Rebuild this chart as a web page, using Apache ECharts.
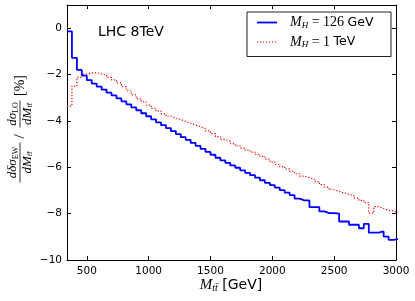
<!DOCTYPE html>
<html>
<head>
<meta charset="utf-8">
<script src="https://cdn.jsdelivr.net/npm/echarts@6.0.0/dist/echarts.min.js"></script>
<style>
html,body{margin:0;padding:0;background:#fff;}
#chart{width:415px;height:301px;}
</style>
</head>
<body>
<div id="chart"></div>
<script>
// Histogram binning (GeV)
const binStart = 340;
const binWidth = 40;
// M_H = 126 GeV (blue, solid step)
const blueVals = [-0.14,-1.28,-1.80,-2.05,-2.24,-2.39,-2.52,-2.65,-2.78,-2.90,
  -3.03,-3.16,-3.29,-3.42,-3.54,-3.67,-3.80,-3.93,-4.06,-4.18,
  -4.31,-4.44,-4.57,-4.70,-4.82,-4.95,-5.08,-5.21,-5.34,-5.46,
  -5.59,-5.70,-5.81,-5.92,-6.02,-6.13,-6.24,-6.34,-6.45,-6.56,
  -6.67,-6.77,-6.88,-6.99,-7.09,-7.20,-7.35,-7.43,-7.43,-7.72,
  -7.72,-7.90,-7.98,-7.98,-8.00,-8.34,-8.34,-8.48,-8.48,-8.63,
  -8.44,-8.82,-8.82,-8.77,-8.99,-9.13,-9.10];
// M_H = 1 TeV (red, dotted step)
const redVals = [-3.36,-2.50,-2.12,-1.98,-1.93,-1.92,-1.97,-2.03,-2.12,-2.23,
  -2.36,-2.52,-2.70,-2.88,-3.05,-3.18,-3.32,-3.46,-3.58,-3.70,
  -3.80,-3.88,-3.94,-4.02,-4.10,-4.18,-4.25,-4.33,-4.43,-4.55,
  -4.68,-4.80,-4.88,-4.98,-5.08,-5.17,-5.26,-5.35,-5.44,-5.53,
  -5.65,-5.77,-5.88,-5.97,-6.07,-6.17,-6.28,-6.38,-6.45,-6.52,
  -6.62,-6.75,-6.86,-6.97,-7.04,-7.11,-7.16,-7.22,-7.33,-7.43,
  -7.52,-7.98,-7.70,-7.78,-7.86,-7.88,-7.95];
const xTicks = [500,1000,1500,2000,2500,3000];
const yTicks = [-10,-8,-6,-4,-2,0];
const xRange = [340, 3000];
const yRange = [-10, 1];
const seriesNames = ['M_H = 126 GeV', 'M_H = 1 TeV'];
const annotation = 'LHC 8TeV';

function toSteps(vals){
  const pts = vals.map((v,i)=>[binStart + i*binWidth, v]);
  pts.push([binStart + vals.length*binWidth, vals[vals.length-1]]);
  return pts;
}

const SERIF = '"Liberation Serif", "DejaVu Serif", serif';
const SANS = '"DejaVu Sans", sans-serif';
const legendRich = {
  i: {fontFamily: SERIF, fontStyle: 'italic', fontSize: 14, fill:'#000'},
  r: {fontFamily: SERIF, fontSize: 14, fill:'#000'},
  sub: {fontFamily: SERIF, fontStyle: 'italic', fontSize: 9, padding:[6,0,0,0], fill:'#000'},
  s: {fontFamily: SANS, fontSize: 12.5, fill:'#000'}
};
const fracRich = {
  i: {fontFamily: SERIF, fontStyle: 'italic', fontSize: 13, fill:'#000'},
  sub: {fontFamily: SERIF, fontStyle: 'italic', fontSize: 8, padding:[5,0,0,0], fill:'#000'},
  subr: {fontFamily: SERIF, fontSize: 8, padding:[5,0,0,0], fill:'#000'}
};

const chart = echarts.init(document.getElementById('chart'), null, {renderer:'canvas'});
const minusFmt = v => String(v).replace('-', '\u2212');
const plainFmt = v => String(v);
function axis(extra){
  return Object.assign({
    axisLine:{show:true, onZero:false, lineStyle:{color:'#000', width:1}},
    splitLine:{show:false}
  }, extra);
}
chart.setOption({
  animation:false,
  backgroundColor:'#fff',
  grid:{left:67, right:19, top:5, bottom:41, show:false},
  xAxis:[
    axis({type:'value', min:xRange[0], max:xRange[1], position:'bottom',
      axisTick:{show:true, inside:true, length:4, lineStyle:{color:'#000'}, customValues:xTicks},
      axisLabel:{show:true, customValues:xTicks, formatter:plainFmt, color:'#000', fontFamily:SANS, fontSize:10.5, margin:6}}),
    axis({type:'value', min:xRange[0], max:xRange[1], position:'top',
      axisTick:{show:true, inside:true, length:4, lineStyle:{color:'#000'}, customValues:xTicks},
      axisLabel:{show:false}})
  ],
  yAxis:[
    axis({type:'value', min:yRange[0], max:yRange[1], position:'left',
      axisTick:{show:true, inside:true, length:4, lineStyle:{color:'#000'}, customValues:yTicks},
      axisLabel:{show:true, customValues:yTicks, formatter:minusFmt, color:'#000', fontFamily:SANS, fontSize:10.5, margin:5}}),
    axis({type:'value', min:yRange[0], max:yRange[1], position:'right',
      axisTick:{show:true, inside:true, length:4, lineStyle:{color:'#000'}, customValues:yTicks},
      axisLabel:{show:false}})
  ],
  series:[
    {name:seriesNames[1], type:'line', step:'end', data:toSteps(redVals), symbol:'none', clip:true,
      lineStyle:{color:'#ff0000', width:1.2, type:[1.2,1.8]}, z:3},
    {name:seriesNames[0], type:'line', step:'end', data:toSteps(blueVals), symbol:'none', clip:true,
      lineStyle:{color:'#0000ff', width:1.8}, z:4}
  ],
  graphic:[
    {type:'text', x:98, y:32, z:10, style:{text:annotation, fontFamily:SANS, fontSize:14, fill:'#000', verticalAlign:'middle', textAlign:'left'}},
    {type:'rect', z:10, shape:{x:247, y:12, width:144, height:44.5}, style:{fill:'#fff', stroke:'#222', lineWidth:1}},
    {type:'line', z:11, shape:{x1:257, y1:22.5, x2:277, y2:22.5}, style:{stroke:'#0000ff', lineWidth:1.8}},
    {type:'line', z:11, shape:{x1:257, y1:42, x2:277, y2:42}, style:{stroke:'#ff0000', lineWidth:1.2, lineDash:[1.2,1.8]}},
    {type:'text', z:11, x:290, y:22.5, style:{text:'{i|M}{sub|H}{r| = 126 }{s|GeV}', rich:legendRich, verticalAlign:'middle', textAlign:'left'}},
    {type:'text', z:11, x:290, y:42, style:{text:'{i|M}{sub|H}{r| = 1 }{s|TeV}', rich:legendRich, verticalAlign:'middle', textAlign:'left'}},
    {type:'text', z:11, x:231, y:285, style:{text:'{i|M}{sub|tt\u0304}{s| [GeV]}', rich:{
      i:{fontFamily:SERIF, fontStyle:'italic', fontSize:15, fill:'#000'},
      sub:{fontFamily:SERIF, fontStyle:'italic', fontSize:10, padding:[6,0,0,0], fill:'#000'},
      s:{fontFamily:SANS, fontSize:14, fill:'#000'}}, verticalAlign:'middle', textAlign:'center'}},
    {type:'group', x:20, y:130.5, rotation:Math.PI/2, z:11, children:[
      {type:'text', x:-32, y:-7, style:{text:'{i|d\u03B4\u03C3}{subr|EW}', rich:fracRich, textAlign:'center', verticalAlign:'middle'}},
      {type:'line', shape:{x1:-52, y1:0, x2:-12, y2:0}, style:{stroke:'#000', lineWidth:0.8}},
      {type:'text', x:-32, y:7.5, style:{text:'{i|dM}{sub|tt\u0304}', rich:fracRich, textAlign:'center', verticalAlign:'middle'}},
      {type:'text', x:-6, y:0, style:{text:'/', fontFamily:SERIF, fontSize:15, fill:'#000', textAlign:'center', verticalAlign:'middle'}},
      {type:'text', x:16.5, y:-7, style:{text:'{i|d\u03C3}{subr|LO}', rich:fracRich, textAlign:'center', verticalAlign:'middle'}},
      {type:'line', shape:{x1:3, y1:0, x2:30, y2:0}, style:{stroke:'#000', lineWidth:0.8}},
      {type:'text', x:16.5, y:7.5, style:{text:'{i|dM}{sub|tt\u0304}', rich:fracRich, textAlign:'center', verticalAlign:'middle'}},
      {type:'text', x:45, y:0, style:{text:'[%]', fontFamily:SERIF, fontSize:14, fill:'#000', textAlign:'center', verticalAlign:'middle'}}
    ]}
  ]
});
</script>
</body>
</html>
